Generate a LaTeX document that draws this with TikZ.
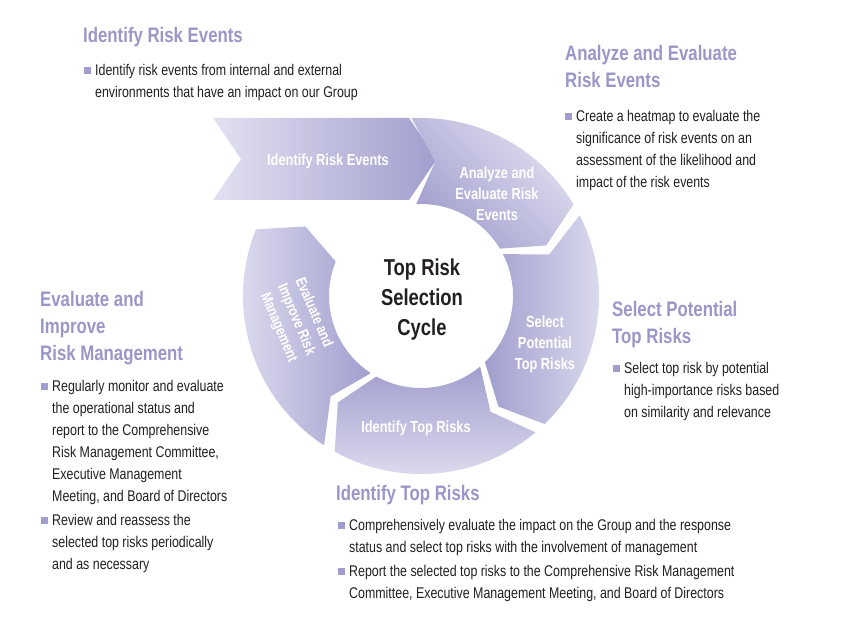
\documentclass[tikz,border=0pt]{standalone}
\usepackage{fontspec}
\setmainfont{Liberation Sans}
\newfontfamily\cond{Liberation Sans}[FakeStretch=0.8]
\usepackage{tikz}
\usetikzlibrary{positioning}
\definecolor{segdark}{HTML}{A19ECE}
\definecolor{seglight}{HTML}{E2E1F1}
\definecolor{headcol}{HTML}{9A96C8}
\definecolor{bodycol}{HTML}{231F20}
\tikzset{
  heading/.style={anchor=base west,inner sep=0pt,align=left,text=headcol,
    font=\cond\bfseries\fontsize{21}{27}\selectfont},
  bullet/.style={anchor=north west,inner sep=0pt,align=left,text=bodycol,
    font=\cond\fontsize{15.5}{22}\selectfont},
  segtext/.style={align=center,text=white,inner sep=0pt,
    font=\cond\bfseries\fontsize{16}{21}\selectfont}
}
% ring segment: start angle, end angle, shading angle
\newcommand\ringseg[3]{%
  \shade[left color=seglight,right color=segdark,shading angle=#3]
    (#1:178) arc[start angle=#1,end angle=#2,radius=178] -- (#2+9:135)
    -- (#2:92) arc[start angle=#2,end angle=#1,radius=92] -- (#1+9:135) -- cycle;}
\newcommand\bul[1]{\fill[segdark] (#1) ++(1,3) rectangle ++(7,7);}
\begin{document}
\begin{tikzpicture}[x=1pt,y=-1pt]
    \useasboundingbox (0,0) rectangle (850,628);
    % first step as a flat arrow
    \shade[left color=seglight,right color=segdark]
      (213,118) -- (409,118) -- (437,159) -- (409,200) -- (213,200) -- (241,159) -- cycle;
    \node[segtext] (ire) at (328,161) {Identify Risk Events};
    % the ring
    \begin{scope}[shift={(421,296)}]
      \ringseg{-93}{-31}{-45}
      \ringseg{-27}{46}{-90}
      \ringseg{50}{119}{180}
      \ringseg{123}{202}{90}
    \end{scope}
    \node[segtext] (are) at (497,194) {Analyze and\\Evaluate Risk\\Events};
    \node[segtext] (spt) at (545,344) {Select\\Potential\\Top Risks};
    \node[segtext] (itr) at (416,428) {Identify Top Risks};
    \node[segtext,rotate=-67,font=\cond\bfseries\fontsize{15}{19}\selectfont]
      (eim) at (296,320) {Evaluate and\\Improve Risk\\Management};
    \node[align=center,inner sep=0pt,text=bodycol,
      font=\cond\bfseries\fontsize{23}{30}\selectfont] (cyc) at (422,300)
      {Top Risk\\Selection\\Cycle};
    % texts round the ring
    \node[heading] (h1) at (83,43) {Identify Risk Events};
    \coordinate (b1) at (83,64); \bul{b1}
    \node[bullet] (t1) at (95,64) {Identify risk events from internal and external\\environments that have an impact on our Group};
    \node[heading] (h2) at (565,88) {Analyze and Evaluate\\Risk Events};
    \coordinate (b2) at (564,110); \bul{b2}
    \node[bullet] (t2) at (576,110) {Create a heatmap to evaluate the\\significance of risk events on an\\assessment of the likelihood and\\impact of the risk events};
    \node[heading] (h3) at (612,343) {Select Potential\\Top Risks};
    \coordinate (b3) at (612,362); \bul{b3}
    \node[bullet] (t3) at (624,362) {Select top risk by potential\\high-importance risks based\\on similarity and relevance};
    \node[heading] (h4) at (40,360) {Evaluate and\\Improve\\Risk Management};
    \coordinate (b4) at (40,380); \bul{b4}
    \node[bullet] (t4) at (52,380) {Regularly monitor and evaluate\\the operational status and\\report to the Comprehensive\\Risk Management Committee,\\Executive Management\\Meeting, and Board of Directors};
    \coordinate (b5) at (40,514); \bul{b5}
    \node[bullet] (t5) at (52,514) {Review and reassess the\\selected top risks periodically\\and as necessary};
    \node[heading] (h5) at (336,500) {Identify Top Risks};
    \coordinate (b6) at (337,519); \bul{b6}
    \node[bullet] (t6) at (349,519) {Comprehensively evaluate the impact on the Group and the response\\status and select top risks with the involvement of management};
    \coordinate (b7) at (337,565); \bul{b7}
    \node[bullet] (t7) at (349,565) {Report the selected top risks to the Comprehensive Risk Management\\Committee, Executive Management Meeting, and Board of Directors};
\end{tikzpicture}
\end{document}
